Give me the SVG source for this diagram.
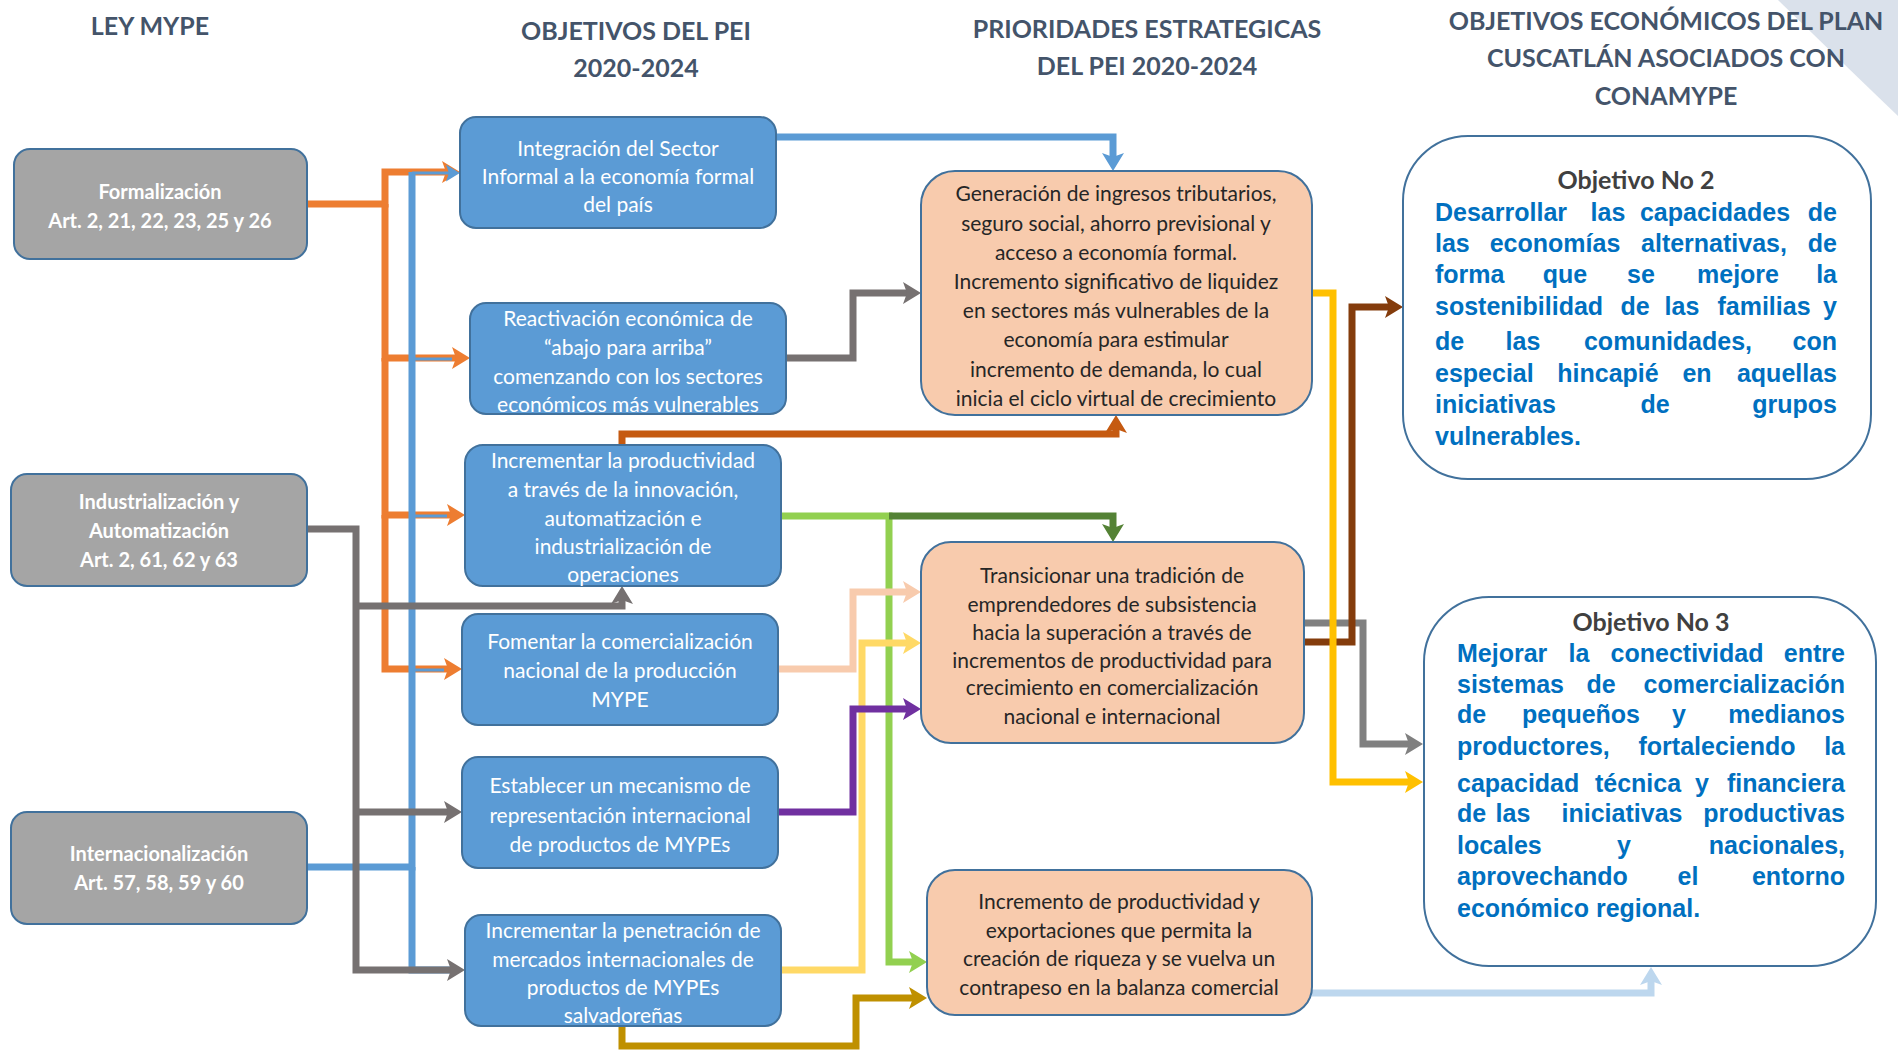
<svg xmlns="http://www.w3.org/2000/svg" width="1898" height="1051" viewBox="0 0 1898 1051">
<style>
text{font-family:'Liberation Sans Narrow','Arial Narrow',Lato,sans-serif;dominant-baseline:central}
.t{font-size:25px;font-weight:bold;fill:#44546A;text-anchor:middle}
.g{font-size:20px;font-weight:bold;fill:#fff;text-anchor:middle}
.b{font-size:21px;fill:#fff;text-anchor:middle}
.p{font-size:21px;fill:#262626;text-anchor:middle}
.oh{font-size:25px;font-weight:bold;fill:#404040;text-anchor:middle}
text.ob{font-family:'Liberation Sans',Arial,sans-serif;font-size:25px;font-weight:bold;fill:#0070C0}
.e{text-anchor:end}
.c{text-anchor:middle}
.gb{fill:#A5A5A5;stroke:#41719C;stroke-width:2}
.bb{fill:#5B9BD5;stroke:#41719C;stroke-width:2}
.pb{fill:#F8CBAD;stroke:#41719C;stroke-width:2}
.wb{fill:#fff;stroke:#41719C;stroke-width:2}
#connectors path{fill:none;stroke-width:7}
</style>
<defs>
<marker id="m-or" viewBox="0 0 18 22" refX="4" refY="11" markerWidth="18" markerHeight="22" markerUnits="userSpaceOnUse" orient="auto"><path d="M0,0L18,11L0,22L4,11z" fill="#ED7D31"/></marker>
<marker id="m-bl" viewBox="0 0 18 22" refX="4" refY="11" markerWidth="18" markerHeight="22" markerUnits="userSpaceOnUse" orient="auto"><path d="M0,0L18,11L0,22L4,11z" fill="#5B9BD5"/></marker>
<marker id="m-bs" viewBox="0 0 18 22" refX="4" refY="11" markerWidth="14" markerHeight="17" markerUnits="userSpaceOnUse" orient="auto"><path d="M0,0L18,11L0,22L4,11z" fill="#5B9BD5"/></marker>
<marker id="m-gr" viewBox="0 0 18 22" refX="4" refY="11" markerWidth="18" markerHeight="22" markerUnits="userSpaceOnUse" orient="auto"><path d="M0,0L18,11L0,22L4,11z" fill="#767171"/></marker>
<marker id="m-do" viewBox="0 0 18 22" refX="4" refY="11" markerWidth="18" markerHeight="22" markerUnits="userSpaceOnUse" orient="auto"><path d="M0,0L18,11L0,22L4,11z" fill="#C55A11"/></marker>
<marker id="m-lg" viewBox="0 0 18 22" refX="4" refY="11" markerWidth="18" markerHeight="22" markerUnits="userSpaceOnUse" orient="auto"><path d="M0,0L18,11L0,22L4,11z" fill="#92D050"/></marker>
<marker id="m-dg" viewBox="0 0 18 22" refX="4" refY="11" markerWidth="18" markerHeight="22" markerUnits="userSpaceOnUse" orient="auto"><path d="M0,0L18,11L0,22L4,11z" fill="#548235"/></marker>
<marker id="m-pe" viewBox="0 0 18 22" refX="4" refY="11" markerWidth="18" markerHeight="22" markerUnits="userSpaceOnUse" orient="auto"><path d="M0,0L18,11L0,22L4,11z" fill="#F8CBAD"/></marker>
<marker id="m-ly" viewBox="0 0 18 22" refX="4" refY="11" markerWidth="18" markerHeight="22" markerUnits="userSpaceOnUse" orient="auto"><path d="M0,0L18,11L0,22L4,11z" fill="#FFD966"/></marker>
<marker id="m-pu" viewBox="0 0 18 22" refX="4" refY="11" markerWidth="18" markerHeight="22" markerUnits="userSpaceOnUse" orient="auto"><path d="M0,0L18,11L0,22L4,11z" fill="#7030A0"/></marker>
<marker id="m-go" viewBox="0 0 18 22" refX="4" refY="11" markerWidth="18" markerHeight="22" markerUnits="userSpaceOnUse" orient="auto"><path d="M0,0L18,11L0,22L4,11z" fill="#BF9000"/></marker>
<marker id="m-ye" viewBox="0 0 18 22" refX="4" refY="11" markerWidth="18" markerHeight="22" markerUnits="userSpaceOnUse" orient="auto"><path d="M0,0L18,11L0,22L4,11z" fill="#FFC000"/></marker>
<marker id="m-br" viewBox="0 0 18 22" refX="4" refY="11" markerWidth="18" markerHeight="22" markerUnits="userSpaceOnUse" orient="auto"><path d="M0,0L18,11L0,22L4,11z" fill="#843C0C"/></marker>
<marker id="m-g2" viewBox="0 0 18 22" refX="4" refY="11" markerWidth="18" markerHeight="22" markerUnits="userSpaceOnUse" orient="auto"><path d="M0,0L18,11L0,22L4,11z" fill="#808080"/></marker>
<marker id="m-lb" viewBox="0 0 18 22" refX="4" refY="11" markerWidth="18" markerHeight="22" markerUnits="userSpaceOnUse" orient="auto"><path d="M0,0L18,11L0,22L4,11z" fill="#BDD7EE"/></marker>
</defs>
<rect width="1898" height="1051" fill="#fff"/>
<path d="M1778,0 Q1850,70 1898,116 V0 Z" fill="#DAE1EB"/>
<g id="titles">
<text class="t" x="150" y="25">LEY MYPE</text>
<text class="t" x="636" y="30">OBJETIVOS DEL PEI</text>
<text class="t" x="636" y="67">2020-2024</text>
<text class="t" x="1147" y="28">PRIORIDADES ESTRATEGICAS</text>
<text class="t" x="1147" y="65">DEL PEI 2020-2024</text>
<text class="t" x="1666" y="20">OBJETIVOS ECONÓMICOS DEL PLAN</text>
<text class="t" x="1666" y="57">CUSCATLÁN ASOCIADOS CON</text>
<text class="t" x="1666" y="95">CONAMYPE</text>
</g>
<g id="connectors">
<path d="M307,204H385V172H446" stroke="#ED7D31" marker-end="url(#m-or)"/>
<path d="M385,204V358H456" stroke="#ED7D31" marker-end="url(#m-or)"/>
<path d="M385,358V515H451" stroke="#ED7D31" marker-end="url(#m-or)"/>
<path d="M385,515V669H448" stroke="#ED7D31" marker-end="url(#m-or)"/>
<path d="M307,867H412V172" stroke="#5B9BD5"/>
<path d="M412,867V970H451" stroke="#5B9BD5"/>
<path d="M412,173H449" stroke="#5B9BD5" style="stroke-width:3" marker-end="url(#m-bs)"/>
<path d="M412,359H452M412,516H447M412,670H444" stroke="#5B9BD5" style="stroke-width:3"/>
<path d="M307,529H356V970H451" stroke="#767171" marker-end="url(#m-gr)"/>
<path d="M356,812H448" stroke="#767171" marker-end="url(#m-gr)"/>
<path d="M356,606H622V600" stroke="#767171" marker-end="url(#m-gr)"/>
<path d="M786,358H853V293H907" stroke="#767171" marker-end="url(#m-gr)"/>
<path d="M776,137H1113V157" stroke="#5B9BD5" marker-end="url(#m-bl)"/>
<path d="M622,445V434H1116V429" stroke="#C55A11" marker-end="url(#m-do)"/>
<path d="M781,516H889V962H913" stroke="#92D050" marker-end="url(#m-lg)"/>
<path d="M889,516H1113V528" stroke="#548235" marker-end="url(#m-dg)"/>
<path d="M778,669H853V592H907" stroke="#F8CBAD" marker-end="url(#m-pe)"/>
<path d="M781,970H862V643H907" stroke="#FFD966" marker-end="url(#m-ly)"/>
<path d="M778,812H853V709H907" stroke="#7030A0" marker-end="url(#m-pu)"/>
<path d="M622,1025V1046H856V998H913" stroke="#BF9000" marker-end="url(#m-go)"/>
<path d="M1304,623H1363V744H1409" stroke="#808080" marker-end="url(#m-g2)"/>
<path d="M1304,642H1352V307H1389" stroke="#843C0C" marker-end="url(#m-br)"/>
<path d="M1312,293H1333V782H1409" stroke="#FFC000" marker-end="url(#m-ye)"/>
<path d="M1312,993H1651V981" stroke="#BDD7EE" marker-end="url(#m-lb)"/>
</g>
<g id="n-formalizacion">
<rect class="gb" x="14" y="149" width="293" height="110" rx="16"/>
<text class="g" x="160" y="191">Formalización</text>
<text class="g" x="160" y="220">Art. 2, 21, 22, 23, 25 y 26</text>
</g>
<g id="n-industrializacion">
<rect class="gb" x="11" y="474" width="296" height="112" rx="16"/>
<text class="g" x="159" y="501">Industrialización y</text>
<text class="g" x="159" y="530">Automatización</text>
<text class="g" x="159" y="559">Art. 2, 61, 62 y 63</text>
</g>
<g id="n-internacionalizacion">
<rect class="gb" x="11" y="812" width="296" height="112" rx="16"/>
<text class="g" x="159" y="853">Internacionalización</text>
<text class="g" x="159" y="882">Art. 57, 58, 59 y 60</text>
</g>
<g id="n-integracion">
<rect class="bb" x="460" y="117" width="316" height="111" rx="16"/>
<text class="b" x="618" y="147">Integración del Sector</text>
<text class="b" x="618" y="175">Informal a la economía formal</text>
<text class="b" x="618" y="203">del país</text>
</g>
<g id="n-reactivacion">
<rect class="bb" x="470" y="303" width="316" height="111" rx="16"/>
<text class="b" x="628" y="317">Reactivación económica de</text>
<text class="b" x="628" y="346">“abajo para arriba”</text>
<text class="b" x="628" y="375">comenzando con los sectores</text>
<text class="b" x="628" y="403">económicos más vulnerables</text>
</g>
<g id="n-productividad">
<rect class="bb" x="465" y="445" width="316" height="141" rx="18"/>
<text class="b" x="623" y="459">Incrementar la productividad</text>
<text class="b" x="623" y="488">a través de la innovación,</text>
<text class="b" x="623" y="517">automatización e</text>
<text class="b" x="623" y="545">industrialización de</text>
<text class="b" x="623" y="573">operaciones</text>
</g>
<g id="n-comercializacion">
<rect class="bb" x="462" y="614" width="316" height="111" rx="16"/>
<text class="b" x="620" y="640">Fomentar la comercialización</text>
<text class="b" x="620" y="669">nacional de la producción</text>
<text class="b" x="620" y="698">MYPE</text>
</g>
<g id="n-representacion">
<rect class="bb" x="462" y="757" width="316" height="111" rx="16"/>
<text class="b" x="620" y="784">Establecer un mecanismo de</text>
<text class="b" x="620" y="814">representación internacional</text>
<text class="b" x="620" y="843">de productos de MYPEs</text>
</g>
<g id="n-penetracion">
<rect class="bb" x="465" y="915" width="316" height="111" rx="16"/>
<text class="b" x="623" y="929">Incrementar la penetración de</text>
<text class="b" x="623" y="958">mercados internacionales de</text>
<text class="b" x="623" y="986">productos de MYPEs</text>
<text class="b" x="623" y="1014">salvadoreñas</text>
</g>
<g id="n-generacion">
<rect class="pb" x="921" y="171" width="391" height="244" rx="34"/>
<text class="p" x="1116" y="192">Generación de ingresos tributarios,</text>
<text class="p" x="1116" y="222">seguro social, ahorro previsional y</text>
<text class="p" x="1116" y="251">acceso a economía formal.</text>
<text class="p" x="1116" y="280">Incremento significativo de liquidez</text>
<text class="p" x="1116" y="309">en sectores más vulnerables de la</text>
<text class="p" x="1116" y="338">economía para estimular</text>
<text class="p" x="1116" y="368">incremento de demanda, lo cual</text>
<text class="p" x="1116" y="397">inicia el ciclo virtual de crecimiento</text>
</g>
<g id="n-transicionar">
<rect class="pb" x="921" y="542" width="383" height="201" rx="30"/>
<text class="p" x="1112" y="574">Transicionar una tradición de</text>
<text class="p" x="1112" y="603">emprendedores de subsistencia</text>
<text class="p" x="1112" y="631">hacia la superación a través de</text>
<text class="p" x="1112" y="659">incrementos de productividad para</text>
<text class="p" x="1112" y="686">crecimiento en comercialización</text>
<text class="p" x="1112" y="715">nacional e internacional</text>
</g>
<g id="n-exportaciones">
<rect class="pb" x="927" y="870" width="385" height="145" rx="28"/>
<text class="p" x="1119" y="900">Incremento de productividad y</text>
<text class="p" x="1119" y="929">exportaciones que permita la</text>
<text class="p" x="1119" y="957">creación de riqueza y se vuelva un</text>
<text class="p" x="1119" y="986">contrapeso en la balanza comercial</text>
</g>
<g id="n-objetivo2">
<rect class="wb" x="1403" y="136" width="468" height="343" rx="65"/>
<text class="oh" x="1636" y="179">Objetivo No 2</text>
<text class="ob" y="212"><tspan x="1435">Desarrollar</tspan><tspan x="1608" class="c">las</tspan><tspan x="1715" class="c">capacidades</tspan><tspan x="1837" class="e">de</tspan></text>
<text class="ob" y="243"><tspan x="1435">las</tspan><tspan x="1555" class="c">economías</tspan><tspan x="1714" class="c">alternativas,</tspan><tspan x="1837" class="e">de</tspan></text>
<text class="ob" y="274"><tspan x="1435">forma</tspan><tspan x="1565" class="c">que</tspan><tspan x="1641" class="c">se</tspan><tspan x="1738" class="c">mejore</tspan><tspan x="1837" class="e">la</tspan></text>
<text class="ob" y="306"><tspan x="1435">sostenibilidad</tspan><tspan x="1635" class="c">de</tspan><tspan x="1682" class="c">las</tspan><tspan x="1764" class="c">familias</tspan><tspan x="1837" class="e">y</tspan></text>
<text class="ob" y="341"><tspan x="1435">de</tspan><tspan x="1523" class="c">las</tspan><tspan x="1668" class="c">comunidades,</tspan><tspan x="1837" class="e">con</tspan></text>
<text class="ob" y="373"><tspan x="1435">especial</tspan><tspan x="1608" class="c">hincapié</tspan><tspan x="1697" class="c">en</tspan><tspan x="1837" class="e">aquellas</tspan></text>
<text class="ob" y="404"><tspan x="1435">iniciativas</tspan><tspan x="1655" class="c">de</tspan><tspan x="1837" class="e">grupos</tspan></text>
<text class="ob" x="1435" y="436">vulnerables.</text>
</g>
<g id="n-objetivo3">
<rect class="wb" x="1424" y="597" width="452" height="369" rx="65"/>
<text class="oh" x="1651" y="621">Objetivo No 3</text>
<text class="ob" y="653"><tspan x="1457">Mejorar</tspan><tspan x="1579" class="c">la</tspan><tspan x="1687" class="c">conectividad</tspan><tspan x="1845" class="e">entre</tspan></text>
<text class="ob" y="684"><tspan x="1457">sistemas</tspan><tspan x="1601" class="c">de</tspan><tspan x="1845" class="e">comercialización</tspan></text>
<text class="ob" y="714"><tspan x="1457">de</tspan><tspan x="1581" class="c">pequeños</tspan><tspan x="1679" class="c">y</tspan><tspan x="1845" class="e">medianos</tspan></text>
<text class="ob" y="746"><tspan x="1457">productores,</tspan><tspan x="1717" class="c">fortaleciendo</tspan><tspan x="1845" class="e">la</tspan></text>
<text class="ob" y="783"><tspan x="1457">capacidad</tspan><tspan x="1638" class="c">técnica</tspan><tspan x="1702" class="c">y</tspan><tspan x="1845" class="e">financiera</tspan></text>
<text class="ob" y="813"><tspan x="1457">de</tspan><tspan x="1513" class="c">las</tspan><tspan x="1622" class="c">iniciativas</tspan><tspan x="1845" class="e">productivas</tspan></text>
<text class="ob" y="845"><tspan x="1457">locales</tspan><tspan x="1624" class="c">y</tspan><tspan x="1845" class="e">nacionales,</tspan></text>
<text class="ob" y="876"><tspan x="1457">aprovechando</tspan><tspan x="1688" class="c">el</tspan><tspan x="1845" class="e">entorno</tspan></text>
<text class="ob" x="1457" y="908">económico regional.</text>
</g>
</svg>
